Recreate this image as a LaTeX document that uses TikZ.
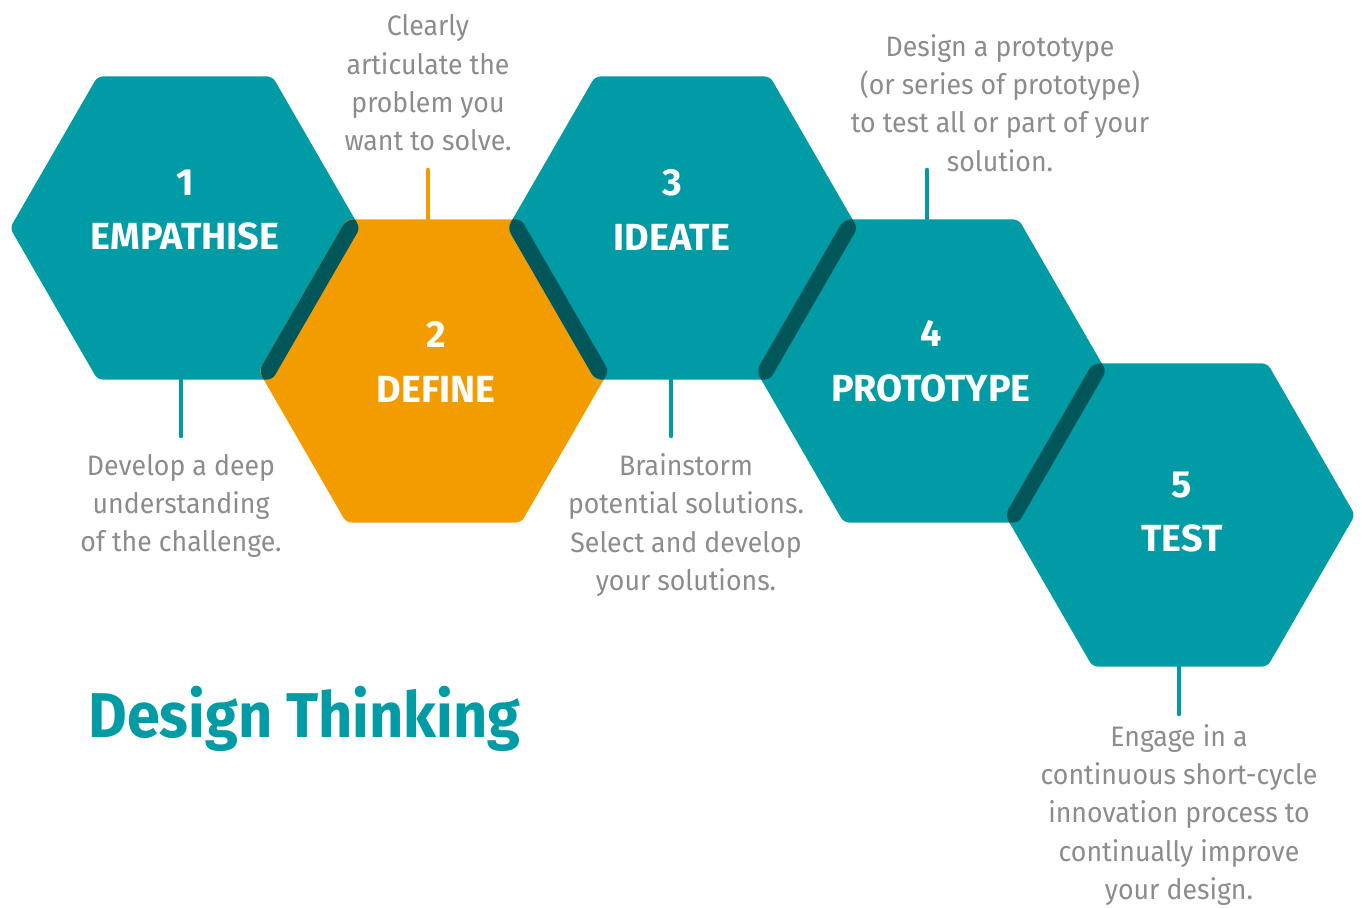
\documentclass[tikz,border=0pt]{standalone}
\usepackage{fontspec}
\setmainfont{Fira Sans}
\newfontfamily\notefont{Fira Sans}[FakeStretch=0.95]
\newfontfamily\titlefont{Fira Sans}[FakeStretch=0.94]
\usetikzlibrary{shapes.geometric}

\definecolor{dtteal}{RGB}{0,155,165}
\definecolor{dtorange}{RGB}{243,156,0}
\definecolor{dtdark}{RGB}{1,86,90}
\definecolor{dtgray}{RGB}{140,140,140}

% outline of a hexagon node, through its six corners
\newcommand{\hexoutline}[1]{(#1.corner 1) -- (#1.corner 2) -- (#1.corner 3)
  -- (#1.corner 4) -- (#1.corner 5) -- (#1.corner 6) -- cycle}

\tikzset{
  hexa/.style={regular polygon,regular polygon sides=6,minimum size=7cm,
    inner sep=0pt,outer sep=0pt,fill=dtteal,rounded corners=3pt},
  steplabel/.style={text=white,align=center,
    font=\fontsize{21.5}{31}\selectfont\bfseries},
  note/.style={text=dtgray,align=center,
    font=\notefont\fontsize{16}{21.8}\selectfont},
  stem/.style={line width=2.6pt,line cap=round,dtteal},
}

\begin{document}
\begin{tikzpicture}[x=0.02cm,y=-0.02cm]
\useasboundingbox (0,0) rectangle (1362,907);

% the five stages
\node[hexa] (h1) at (185,228) {};
\node[hexa,fill=dtorange] (h2) at (433.75,371) {};
\node[hexa] (h3) at (682.5,228) {};
\node[hexa] (h4) at (931.25,371) {};
\node[hexa] (h5) at (1180,515) {};

% dark bands where two hexagons overlap
\foreach \a/\b in {h1/h2,h2/h3,h3/h4,h4/h5}{
  \begin{scope}
    \clip[rounded corners=3pt] \hexoutline{\a};
    \fill[dtdark,rounded corners=4pt] \hexoutline{\b};
  \end{scope}
}

% stage names
\node[steplabel] (l1) at (185,210) {1\\EMPATHISE};
\node[steplabel] (l2) at (436,362) {2\\DEFINE};
\node[steplabel] (l3) at (672,210) {3\\IDEATE};
\node[steplabel] (l4) at (931,361) {4\\PROTOTYPE};
\node[steplabel] (l5) at (1182,512) {5\\TEST};

% short stems out to the notes
\coordinate (e1) at (181,436);
\coordinate (e2) at (428,170);
\coordinate (e3) at (671,436);
\coordinate (e4) at (927,170);
\coordinate (e5) at (1179,714);
\draw[stem] (e1) -- (e1 |- h1.south);
\draw[stem,dtorange] (e2) -- (e2 |- h2.north);
\draw[stem] (e3) -- (e3 |- h3.south);
\draw[stem] (e4) -- (e4 |- h4.north);
\draw[stem] (e5) -- (e5 |- h5.south);

% notes
\node[note] (d1) at (181,506) {Develop a deep\\understanding\\of the challenge.};
\node[note] (d2) at (428,83) {Clearly\\articulate the\\problem you\\want to solve.};
\node[note] (d3) at (686,525) {Brainstorm\\potential solutions.\\Select and develop\\your solutions.};
\node[note] (d4) at (1000,103) {Design a prototype\\(or series of prototype)\\to test all or part of your\\solution.};
\node[note] (d5) at (1179,815) {Engage in a\\continuous short-cycle\\innovation process to\\continually improve\\your design.};

% title
\node[anchor=base west,inner sep=0pt,text=dtteal,
  font=\titlefont\fontsize{36}{40}\selectfont\bfseries] (title) at (88,737) {Design Thinking};
\end{tikzpicture}
\end{document}
